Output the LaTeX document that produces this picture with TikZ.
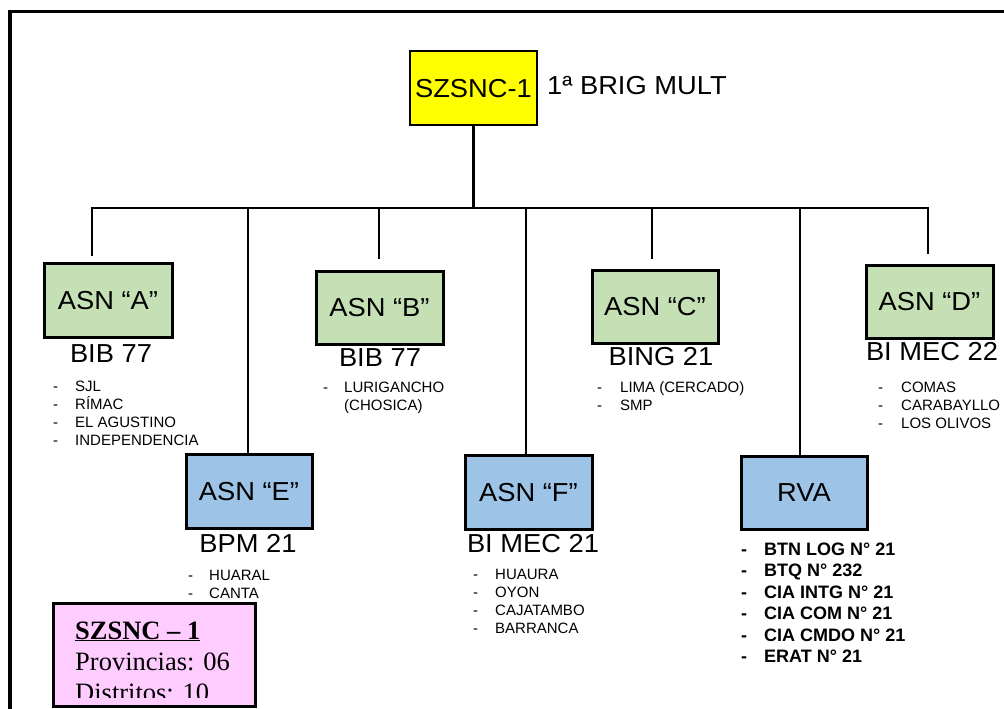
\documentclass[tikz,border=0pt]{standalone}
\usepackage{fontspec}
\setmainfont{Liberation Sans}
\newfontfamily\widesans[FakeStretch=1.05]{Liberation Sans}
\newfontfamily\serifTNR{Liberation Serif}
\definecolor{greenc}{HTML}{C5E0B4}
\definecolor{bluec}{HTML}{9DC3E6}
\definecolor{pinkc}{HTML}{FFCCFF}
\definecolor{yellowc}{HTML}{FFFF00}
\tikzset{
  bigtxt/.style={font=\widesans\fontsize{26}{30}\selectfont, inner sep=0pt},
  unitbox/.style={draw, line width=3pt, inner sep=0pt, text height=18.6pt, text depth=0pt,
     font=\widesans\fontsize{26}{30}\selectfont},
  greenbox/.style={unitbox, fill=greenc},
  bluebox/.style={unitbox, fill=bluec},
  conn/.style={line width=2.2pt},
  smalllist/.style={anchor=base west, inner sep=0pt, font=\fontsize{15}{18}\selectfont},
  boldlist/.style={anchor=base west, inner sep=0pt, font=\bfseries\fontsize{18}{21.5}\selectfont},
}
\begin{document}
\begin{tikzpicture}[x=1pt,y=-1pt]
\useasboundingbox (0,0) rectangle (1004,709);
% frame
\draw[line width=3.5pt, line join=miter] (10,712) -- (10,11.3) -- (1006,11.3);

% top box
\node[unitbox, fill=yellowc, line width=2.5pt, minimum width=127pt, minimum height=74pt] (top) at (473.5,88) {SZSNC-1};
\node[bigtxt, anchor=base west] (brig) at (547,94) {1ª BRIG MULT};

% boxes
\node[greenbox, minimum width=128pt, minimum height=74pt] (A) at (108,300) {ASN “A”};
\node[greenbox, minimum width=127pt, minimum height=73pt] (B) at (379.5,307.5) {ASN “B”};
\node[greenbox, minimum width=126pt, minimum height=73pt] (C) at (655,306.5) {ASN “C”};
\node[greenbox, minimum width=127pt, minimum height=73pt] (D) at (929.5,301.5) {ASN “D”};
\node[bluebox, minimum width=126pt, minimum height=74pt] (E) at (249,491) {ASN “E”};
\node[bluebox, minimum width=127pt, minimum height=74pt] (F) at (528.5,492) {ASN “F”};
\node[bluebox, minimum width=126pt, minimum height=73pt] (R) at (804,492.5) {RVA};

% bus junctions
\coordinate (jA) at (92,208);
\coordinate (jE) at (248,208);
\coordinate (jB) at (379,208);
\coordinate (jF) at (526,208);
\coordinate (jC) at (652,208);
\coordinate (jR) at (800,208);
\coordinate (jD) at (928,208);

\draw[conn] (top.south) -- (top.south |- jA);
\draw[conn, line cap=rect] (jA) -- (jD);
\draw[conn] (jA) -- ([yshift=6pt]jA |- A.north);
\draw[conn] (jB) -- ([yshift=11pt]jB |- B.north);
\draw[conn] (jC) -- ([yshift=10pt]jC |- C.north);
\draw[conn] (jD) -- ([yshift=10pt]jD |- D.north);
\draw[conn] (jE) -- (jE |- E.north);
\draw[conn] (jF) -- (jF |- F.north);
\draw[conn] (jR) -- (jR |- R.north);

% unit names
\node[bigtxt, anchor=base] (nA) at (111,362) {BIB 77};
\node[bigtxt, anchor=base] (nB) at (380,366) {BIB 77};
\node[bigtxt, anchor=base] (nC) at (661,365) {BING 21};
\node[bigtxt, anchor=base] (nD) at (932,360) {BI MEC 22};
\node[bigtxt, anchor=base] (nE) at (248,552) {BPM 21};
\node[bigtxt, anchor=base] (nF) at (533,552) {BI MEC 21};

% lists
\node[smalllist] (lA) at (53,391) {\begin{tabular}[t]{@{}p{22pt}@{}l@{}}-&SJL\\-&RÍMAC\\-&EL AGUSTINO\\-&INDEPENDENCIA\end{tabular}};
\node[smalllist] (lB) at (323,392) {\begin{tabular}[t]{@{}p{21pt}@{}l@{}}-&LURIGANCHO\\&(CHOSICA)\end{tabular}};
\node[smalllist] (lC) at (597,392) {\begin{tabular}[t]{@{}p{23pt}@{}l@{}}-&LIMA (CERCADO)\\-&SMP\end{tabular}};
\node[smalllist] (lD) at (878,392) {\begin{tabular}[t]{@{}p{23pt}@{}l@{}}-&COMAS\\-&CARABAYLLO\\-&LOS OLIVOS\end{tabular}};
\node[smalllist] (lE) at (188,580) {\begin{tabular}[t]{@{}p{21pt}@{}l@{}}-&HUARAL\\-&CANTA\end{tabular}};
\node[smalllist] (lF) at (473,579) {\begin{tabular}[t]{@{}p{22pt}@{}l@{}}-&HUAURA\\-&OYON\\-&CAJATAMBO\\-&BARRANCA\end{tabular}};
\node[boldlist] (lR) at (741,555) {\begin{tabular}[t]{@{}p{23pt}@{}l@{}}-&BTN LOG N° 21\\-&BTQ N° 232\\-&CIA INTG N° 21\\-&CIA COM N° 21\\-&CIA CMDO N° 21\\-&ERAT N° 21\end{tabular}};

% summary box
\node[draw, fill=pinkc, line width=3pt, minimum width=202pt, minimum height=103pt, inner sep=0pt] (sum) at (154,654.5) {};
\begin{scope}
\clip (56,604) rectangle (252,697);
\node[anchor=base west, inner sep=0pt, font=\serifTNR\fontsize{26.5}{31}\selectfont] (sumtext) at (75,639)
  {\begin{tabular}[t]{@{}l@{}}\textbf{\underline{SZSNC – 1}}\\Provincias: 06\\Distritos: 10\end{tabular}};
\end{scope}
\end{tikzpicture}
\end{document}
